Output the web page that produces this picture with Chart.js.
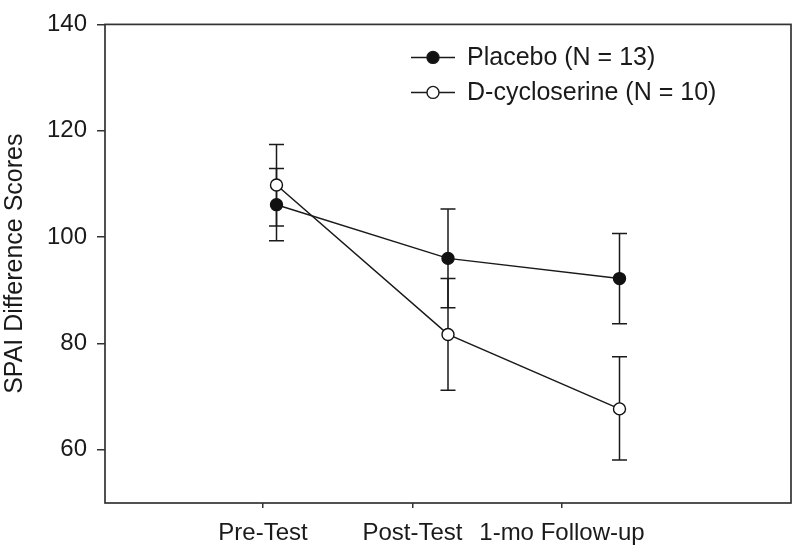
<!DOCTYPE html>
<html>
<head>
<meta charset="utf-8">
<script src="https://cdn.jsdelivr.net/npm/chart.js@4/dist/chart.umd.min.js"></script>
<style>
  html, body { margin: 0; padding: 0; background: #fff; }
  #wrap { width: 800px; height: 552px; }
</style>
</head>
<body>
<div id="wrap"><canvas id="c" width="800" height="552"></canvas></div>
<script>
// ---- data ----
const categories = ["Pre-Test", "Post-Test", "1-mo Follow-up"];
const placeboLabel = "Placebo (N = 13)";
const placeboMean = [106.1, 96.0, 92.2];
const placeboLow  = [99.3, 86.7, 83.7];
const placeboHigh = [112.9, 105.3, 100.7];
const dcsLabel = "D-cycloserine (N = 10)";
const dcsMean = [109.8, 81.7, 67.7];
const dcsLow  = [102.1, 71.2, 58.1];
const dcsHigh = [117.4, 92.2, 77.5];
const yTicks = [60, 80, 100, 120, 140];
const yTitle = "SPAI Difference Scores";

const INK = '#1a1a1a';
const FONT = "'Liberation Sans', Arial, Helvetica, sans-serif";

function pts(arr) { return arr.map((v, i) => ({ x: i + 1, y: v })); }

const errorBars = {
  id: 'errorBars',
  beforeDatasetsDraw(chart) {
    const ctx = chart.ctx;
    const xs = chart.scales.x, ys = chart.scales.y;
    ctx.save();
    ctx.strokeStyle = INK;
    ctx.lineWidth = 1.5;
    chart.data.datasets.forEach(ds => {
      ds.data.forEach((p, i) => {
        const px = xs.getPixelForValue(p.x);
        const lo = ys.getPixelForValue(ds.errLow[i]);
        const hi = ys.getPixelForValue(ds.errHigh[i]);
        ctx.beginPath();
        ctx.moveTo(px, lo); ctx.lineTo(px, hi);
        ctx.moveTo(px - 7.5, lo); ctx.lineTo(px + 7.5, lo);
        ctx.moveTo(px - 7.5, hi); ctx.lineTo(px + 7.5, hi);
        ctx.stroke();
      });
    });
    ctx.restore();
  }
};

const frame = {
  id: 'frame',
  afterDraw(chart) {
    const a = chart.chartArea, ctx = chart.ctx;
    ctx.save();
    ctx.strokeStyle = '#333';
    ctx.lineWidth = 1.7;
    ctx.strokeRect(a.left, a.top, a.right - a.left, a.bottom - a.top);
    ctx.restore();
  }
};

const innerLegend = {
  id: 'innerLegend',
  afterDraw(chart) {
    const ctx = chart.ctx;
    const a = chart.chartArea;
    const x0 = a.left + 306, x1 = a.left + 350, xm = a.left + 328, xt = a.left + 362;
    const rows = [a.top + 33, a.top + 68];
    ctx.save();
    chart.data.datasets.forEach((ds, i) => {
      const y = rows[i];
      ctx.strokeStyle = INK; ctx.lineWidth = 1.5;
      ctx.beginPath(); ctx.moveTo(x0, y); ctx.lineTo(x1, y); ctx.stroke();
      ctx.beginPath(); ctx.arc(xm, y, 6, 0, Math.PI * 2);
      ctx.fillStyle = ds.pointBackgroundColor; ctx.fill();
      ctx.lineWidth = 1.4; ctx.stroke();
      ctx.fillStyle = INK;
      ctx.font = "25px " + FONT;
      ctx.textAlign = 'left'; ctx.textBaseline = 'middle';
      ctx.fillText(ds.label, xt, y + 1);
    });
    ctx.restore();
  }
};

new Chart(document.getElementById('c'), {
  type: 'line',
  data: {
    datasets: [
      {
        label: placeboLabel, data: pts(placeboMean), errLow: placeboLow, errHigh: placeboHigh,
        borderColor: INK, borderWidth: 1.5, pointRadius: 6, pointBorderWidth: 1.4,
        pointBackgroundColor: '#111', pointBorderColor: '#111', xAxisID: 'x', yAxisID: 'y'
      },
      {
        label: dcsLabel, data: pts(dcsMean), errLow: dcsLow, errHigh: dcsHigh,
        borderColor: INK, borderWidth: 1.5, pointRadius: 6, pointBorderWidth: 1.4,
        pointBackgroundColor: '#fff', pointBorderColor: '#111', xAxisID: 'x', yAxisID: 'y'
      }
    ]
  },
  options: {
    responsive: false,
    animation: false,
    layout: { padding: { top: 21.5, right: 9, left: 0, bottom: 0 } },
    plugins: { legend: { display: false }, tooltip: { enabled: false } },
    scales: {
      x: { type: 'linear', min: 0, max: 4, display: false },
      x2: {
        type: 'linear', position: 'bottom', min: -0.057, max: 4.532,
        afterBuildTicks: s => { s.ticks = categories.map((c, i) => ({ value: i + 1 })); },
        afterFit: s => { s.height = 49; },
        border: { display: false },
        grid: { drawOnChartArea: false, drawTicks: true, tickLength: 5, color: '#333', lineWidth: 1.5 },
        ticks: {
          padding: 11, color: INK, font: { family: FONT, size: 24 }, maxRotation: 0, autoSkip: false,
          callback: v => categories[Math.round(v) - 1]
        }
      },
      y: {
        type: 'linear', min: 50, max: 140,
        afterBuildTicks: s => { s.ticks = yTicks.map(v => ({ value: v })); },
        afterFit: s => { s.width = 105; },
        border: { display: false },
        grid: { drawOnChartArea: false, drawTicks: true, tickLength: 8, color: '#333', lineWidth: 1.5 },
        ticks: { padding: 10, color: INK, font: { family: FONT, size: 24 } },
        title: { display: true, text: yTitle, color: INK, font: { family: FONT, size: 25 }, padding: 0 }
      }
    }
  },
  plugins: [errorBars, frame, innerLegend]
});
</script>
</body>
</html>
